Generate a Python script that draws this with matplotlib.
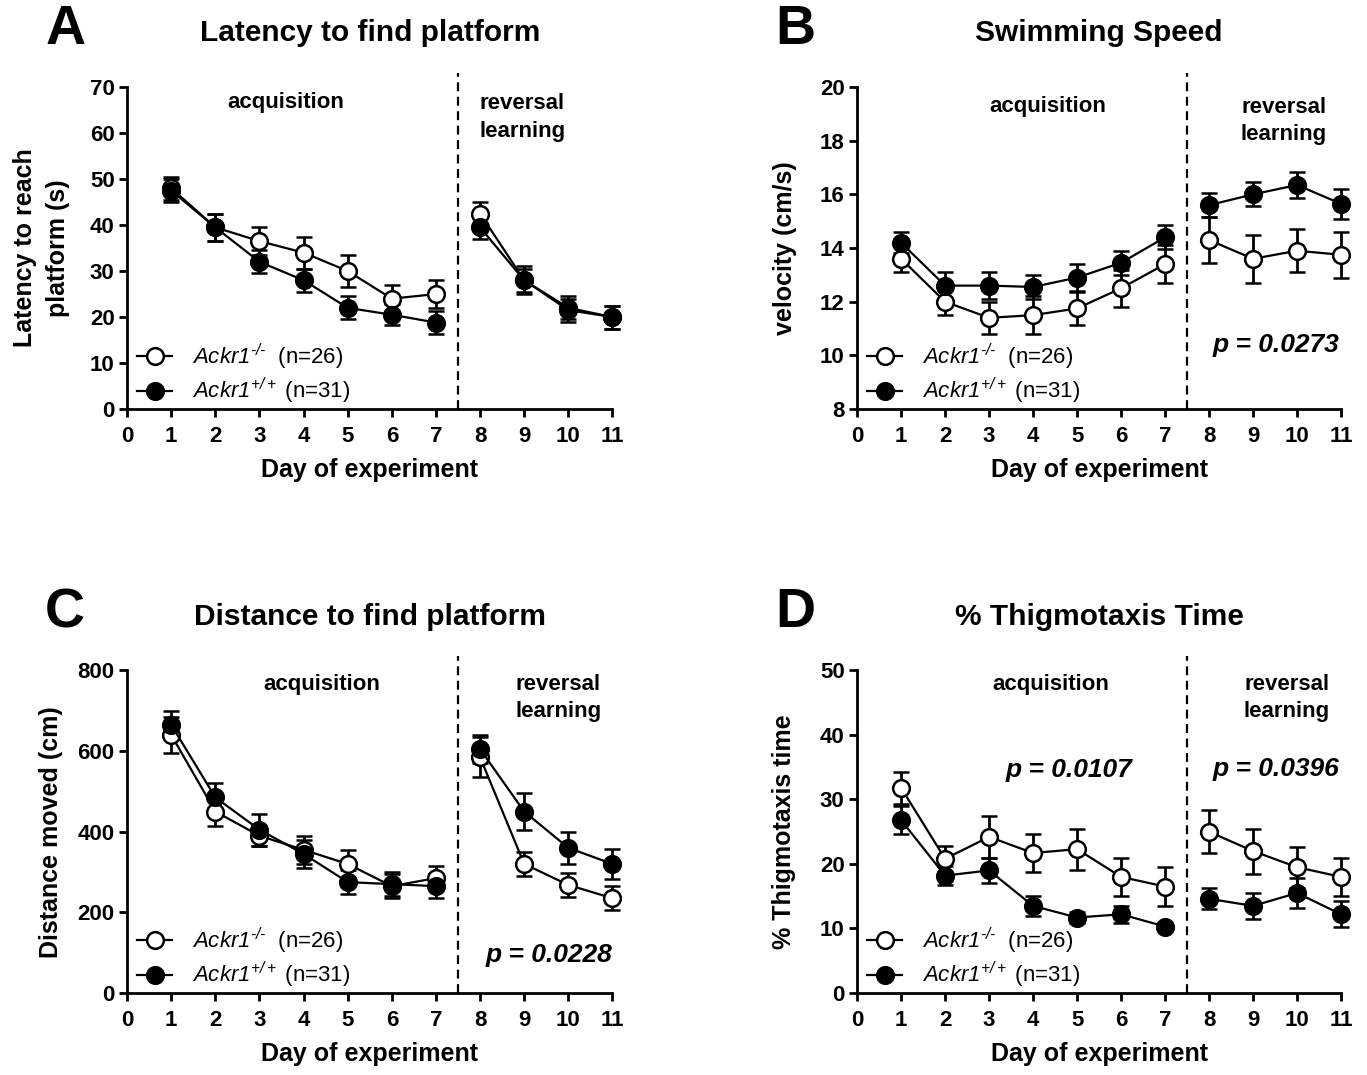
import matplotlib
matplotlib.use("Agg")
import matplotlib.pyplot as plt
from matplotlib.lines import Line2D

plt.rcParams['font.family'] = ['Liberation Sans', 'DejaVu Sans']
plt.rcParams['mathtext.fontset'] = 'custom'
plt.rcParams['mathtext.rm'] = 'Liberation Sans:italic'
plt.rcParams['mathtext.it'] = 'Liberation Sans:italic'
plt.rcParams['mathtext.bf'] = 'Liberation Sans:bold'
plt.rcParams['mathtext.default'] = 'it'

days = [1, 2, 3, 4, 5, 6, 7, 8, 9, 10, 11]

# A - latency (s)
lat_ko = [48, 39.5, 36.5, 34, 30, 24, 25, 42.5, 28, 22, 20]
lat_ko_err = [2.5, 3, 3, 3.5, 3.5, 3, 3, 2.5, 3, 2.5, 2.5]
lat_wt = [47.5, 39.5, 32, 28, 22, 20.5, 18.8, 39.5, 28, 21.5, 20]
lat_wt_err = [2.5, 3, 2.5, 2.5, 2.5, 2.3, 2.5, 2.5, 2.5, 2.5, 2.5]

# B - velocity (cm/s)
vel_ko = [13.6, 12.0, 11.4, 11.5, 11.75, 12.5, 13.4, 14.3, 13.6, 13.9, 13.75]
vel_ko_err = [0.5, 0.5, 0.6, 0.7, 0.6, 0.7, 0.7, 0.85, 0.9, 0.8, 0.85]
vel_wt = [14.2, 12.6, 12.6, 12.55, 12.9, 13.45, 14.4, 15.6, 16.0, 16.35, 15.65]
vel_wt_err = [0.4, 0.5, 0.5, 0.45, 0.5, 0.45, 0.45, 0.45, 0.45, 0.5, 0.55]

# C - distance (cm)
dist_ko = [640, 450, 390, 355, 320, 265, 285, 585, 320, 268, 235]
dist_ko_err = [45, 35, 25, 35, 35, 30, 30, 50, 30, 30, 30]
dist_wt = [665, 485, 405, 345, 275, 270, 265, 605, 450, 360, 320]
dist_wt_err = [35, 35, 40, 35, 30, 30, 30, 35, 45, 40, 38]

# D - thigmotaxis (%)
thig_ko = [31.8, 20.8, 24.2, 21.7, 22.3, 18, 16.5, 25, 22, 19.5, 18]
thig_ko_err = [2.5, 2, 3.2, 3, 3.2, 3, 3, 3.3, 3.5, 3.2, 3]
thig_wt = [26.8, 18.2, 19, 13.5, 11.7, 12.2, 10.3, 14.6, 13.5, 15.5, 12.2]
thig_wt_err = [2.2, 1.5, 2, 1.5, 0.8, 1.3, 0.6, 1.6, 2, 2.3, 2]

label_ko = '$Ackr1^{\u2010/\u2010}$  (n=26)'
label_wt = '$Ackr1^{+/+}$ (n=31)'

fig = plt.figure(figsize=(13.67, 10.75), dpi=100)

panels = [
    dict(rect=[0.093, 0.6195, 0.355, 0.2995], letter='A', title='Latency to find platform',
         ylabel='Latency to reach\nplatform (s)', ylim=(0, 70), yticks=range(0, 71, 10),
         ko=lat_ko, koe=lat_ko_err, wt=lat_wt, wte=lat_wt_err,
         acq=(3.6, 0.953), rev=(8.96, 0.905), ylx=-0.118, pvals=[]),
    dict(rect=[0.627, 0.6195, 0.354, 0.2995], letter='B', title='Swimming Speed',
         ylabel='velocity (cm/s)', ylim=(8, 20), yticks=range(8, 21, 2),
         ko=vel_ko, koe=vel_ko_err, wt=vel_wt, wte=vel_wt_err,
         acq=(4.34, 0.94), rev=(9.7, 0.895), ylx=-0.124,
         pvals=[(9.52, 10.39, 'p = 0.0273')]),
    dict(rect=[0.093, 0.0763, 0.355, 0.300], letter='C', title='Distance to find platform',
         ylabel='Distance moved (cm)', ylim=(0, 800), yticks=range(0, 801, 200),
         ko=dist_ko, koe=dist_ko_err, wt=dist_wt, wte=dist_wt_err,
         acq=(4.42, 0.957), rev=(9.77, 0.914), ylx=-0.132,
         pvals=[(9.57, 94, 'p = 0.0228')]),
    dict(rect=[0.627, 0.0763, 0.354, 0.300], letter='D', title='% Thigmotaxis Time',
         ylabel='% Thigmotaxis time', ylim=(0, 50), yticks=range(0, 51, 10),
         ko=thig_ko, koe=thig_ko_err, wt=thig_wt, wte=thig_wt_err,
         acq=(4.4, 0.957), rev=(9.77, 0.914), ylx=-0.126,
         pvals=[(4.82, 34.5, 'p = 0.0107'), (9.52, 34.8, 'p = 0.0396')]),
]

for p in panels:
    ax = fig.add_axes(p['rect'])
    segs = [(0, 7), (7, 11)]
    for vals, errs, face in [(p['ko'], p['koe'], 'white'), (p['wt'], p['wte'], 'black')]:
        for a, b in segs:
            ax.errorbar(days[a:b], vals[a:b], yerr=errs[a:b], color='black',
                        marker='o', markersize=12, markerfacecolor=face,
                        markeredgecolor='black', markeredgewidth=1.8,
                        linewidth=1.6, elinewidth=2, capsize=5.5, capthick=2,
                        clip_on=False, zorder=3)
    ax.set_xlim(0, 11)
    ax.set_ylim(*p['ylim'])
    ax.set_xticks(range(0, 12))
    ax.set_yticks(list(p['yticks']))
    for s in ['top', 'right']:
        ax.spines[s].set_visible(False)
    for s in ['left', 'bottom']:
        ax.spines[s].set_linewidth(2)
    ax.tick_params(width=2, length=6, labelsize=16, pad=3)
    ax.tick_params(axis='x', pad=6)
    for t in ax.get_xticklabels() + ax.get_yticklabels():
        t.set_fontweight('bold')
    ax.set_xlabel('Day of experiment', fontsize=18, fontweight='bold', labelpad=8)
    ax.set_ylabel(p['ylabel'], fontsize=18, fontweight='bold', linespacing=1.45)
    ax.yaxis.set_label_coords(p['ylx'], 0.5)
    ax.axvline(7.5, ymin=0, ymax=1.045, color='black', linestyle=(0, (4, 2.5)),
               linewidth=1.6, clip_on=False)
    y0, y1 = p['ylim']
    ax.text(p['acq'][0], y0 + (y1 - y0) * p['acq'][1], 'acquisition', ha='center',
            va='center', fontsize=16, fontweight='bold')
    ax.text(p['rev'][0], y0 + (y1 - y0) * p['rev'][1], 'reversal\nlearning', ha='center',
            va='center', fontsize=16, fontweight='bold', linespacing=1.4)
    for px, py, txt in p['pvals']:
        ax.text(px, py, txt, ha='center', va='center', fontsize=19,
                fontweight='bold', fontstyle='italic')
    ax.set_title(p['title'], fontsize=21.5, fontweight='bold', pad=33)
    ax.text(-0.169, 1.177, p['letter'], transform=ax.transAxes, fontsize=40,
            fontweight='bold', ha='left', va='center')
    handles = [Line2D([], [], color='black', marker='o', markersize=12,
                      markerfacecolor='white', markeredgewidth=1.8, linewidth=1.6),
               Line2D([], [], color='black', marker='o', markersize=12,
                      markerfacecolor='black', markeredgewidth=1.8, linewidth=1.6)]
    ax.legend(handles, [label_ko, label_wt], loc='lower left',
              bbox_to_anchor=(0.02, 0.008), frameon=False, fontsize=16,
              handlelength=1.6, handletextpad=0.9, labelspacing=0.2,
              borderaxespad=0, borderpad=0)

fig.savefig('out.png', dpi=100)
